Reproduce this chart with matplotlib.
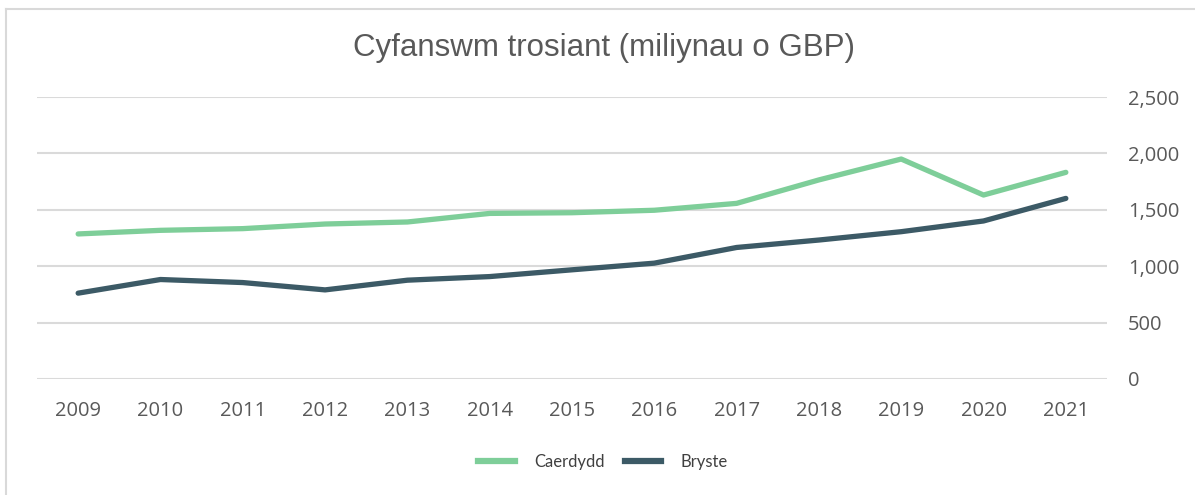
import matplotlib
matplotlib.use("Agg")
import matplotlib.pyplot as plt
from matplotlib.ticker import FuncFormatter, MultipleLocator
from matplotlib.lines import Line2D

years = ["2009", "2010", "2011", "2012", "2013", "2014", "2015",
         "2016", "2017", "2018", "2019", "2020", "2021"]
caerdydd = [1286, 1318, 1333, 1374, 1392, 1468, 1474, 1496, 1557, 1765, 1950, 1631, 1832]
bryste = [761, 882, 855, 790, 876, 908, 968, 1027, 1166, 1232, 1306, 1401, 1601]

title = "Cyfanswm trosiant (miliynau o GBP)"
series_names = ["Caerdydd", "Bryste"]
colors = ["#7ECE99", "#3C5A66"]

W, H = 1195, 495
fig = plt.figure(figsize=(W / 100, H / 100), dpi=100)
fig.patch.set_facecolor("white")

# figure border (top and left)
fig.add_artist(Line2D([6.5 / W, 6.5 / W], [0, 1 - 8.5 / H], transform=fig.transFigure,
                      color="#D9D9D9", lw=1.5))
fig.add_artist(Line2D([6.5 / W, 1], [1 - 8.5 / H, 1 - 8.5 / H], transform=fig.transFigure,
                      color="#D9D9D9", lw=1.5))

left, right, top, bottom = 37, 1107, 97, 379
ax = fig.add_axes([left / W, 1 - bottom / H, (right - left) / W, (bottom - top) / H])

x = list(range(len(years)))
ax.plot(x, caerdydd, color=colors[0], lw=3.8, solid_capstyle="round", solid_joinstyle="round")
ax.plot(x, bryste, color=colors[1], lw=3.8, solid_capstyle="round", solid_joinstyle="round")

ax.set_xlim(-0.5, len(years) - 0.5)
ax.set_ylim(0, 2500)
ax.yaxis.set_major_locator(MultipleLocator(500))
ax.yaxis.set_major_formatter(FuncFormatter(lambda v, p: f"{int(v):,}"))
ax.yaxis.tick_right()
ax.set_xticks(x)
ax.set_xticklabels(years)

ax.grid(axis="y", color="#DADADA", lw=1.5)
ax.set_axisbelow(True)
for s in ax.spines.values():
    s.set_visible(False)
ax.tick_params(axis="both", length=0, labelsize=14.5, labelcolor="#595959")
ax.tick_params(axis="x", pad=16)
ax.tick_params(axis="y", pad=15)
for lab in ax.get_xticklabels() + ax.get_yticklabels():
    lab.set_fontfamily("Open Sans")

fig.text(604 / W, 1 - 48 / H, title, ha="center", va="center",
         fontsize=22.5, color="#595959", family="Liberation Sans")

handles = [Line2D([], [], color=c, lw=4.5) for c in colors]
leg = fig.legend(handles, series_names, loc="center", bbox_to_anchor=(603 / W, 1 - 462 / H),
                 ncol=2, frameon=False, handlelength=2.2, columnspacing=1.2,
                 handletextpad=1.15, prop={"family": "Lato", "size": 12})
for t in leg.get_texts():
    t.set_color("#404040")

fig.savefig("out.png", dpi=100, facecolor="white")
